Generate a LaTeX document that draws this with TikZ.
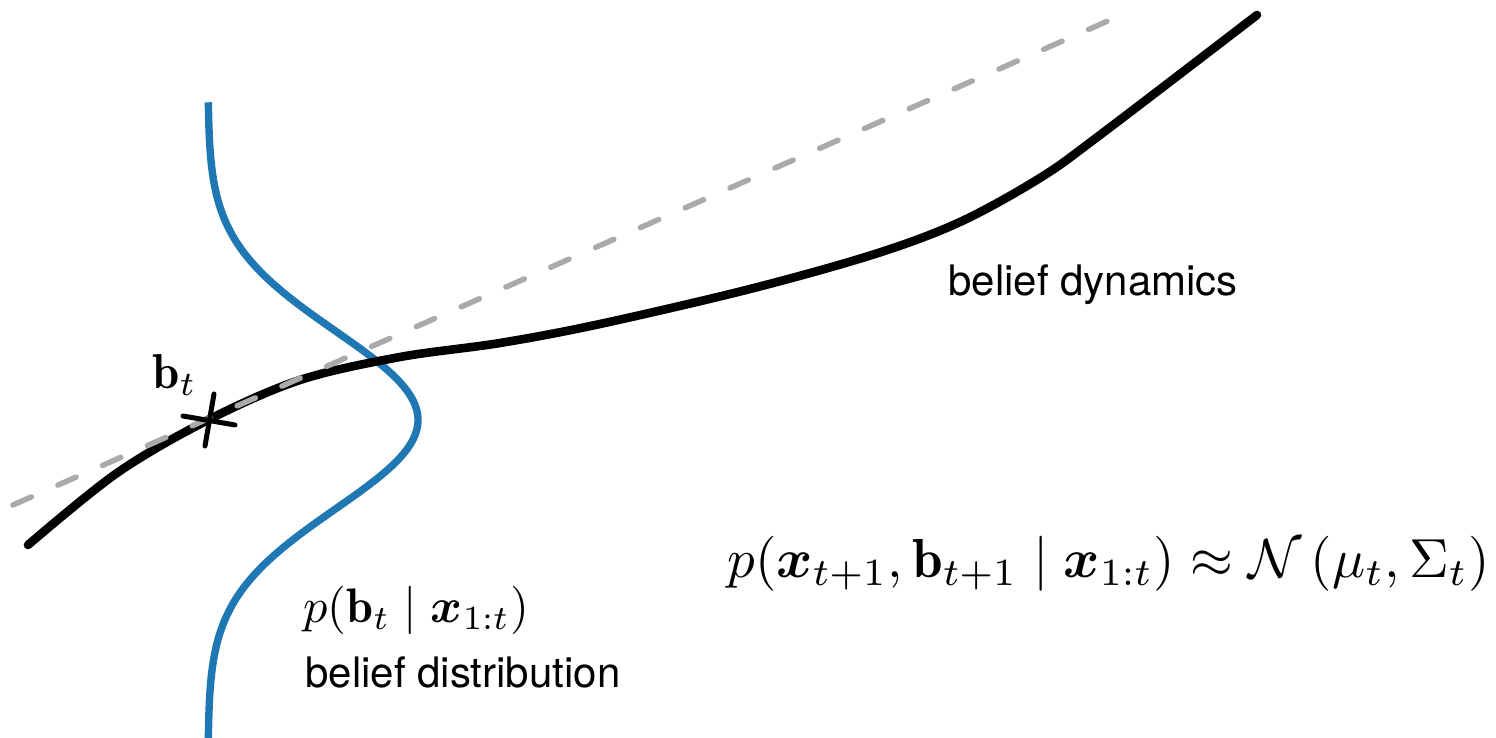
\documentclass[tikz,border=0pt]{standalone}
\usepackage{amsmath,amssymb}
\usepackage{graphicx}
\usepackage{fontspec}
\newfontfamily\helv{TeX Gyre Heros}
\definecolor{beliefblue}{HTML}{1F77B4}
\definecolor{dashgray}{HTML}{AAAAAA}
\begin{document}
\begin{tikzpicture}[x=0.5pt,y=-0.5pt,
  dyn/.style={line width=4.3pt, line cap=round, black},
  lin/.style={line width=2.75pt, dashgray, line cap=round, dash pattern=on 10pt off 14.5pt},
  dist/.style={line width=3.7pt, beliefblue},
  crossmark/.style={line width=2.5pt, line cap=round, black},
  txt/.style={font=\helv\fontsize{21}{25}\selectfont, inner sep=0pt, anchor=base west},
  mth/.style={inner sep=0pt, anchor=base west}]
\useasboundingbox (0,0) rectangle (1496,738);
% belief distribution
\draw[dist] plot[domain=-3.57:3.58, samples=160, variable=\t] ({208+210*exp(-0.5*\t*\t)}, {420+89*\t});
% belief dynamics
\draw[dyn] plot[smooth, tension=0.55] coordinates {(28,545) (117,473) (208,420) (300,380) (400,357) (500,343) (600,324) (750,289) (875,254) (960,222) (1040,178) (1100,135) (1257,15)};
% linearisation
\coordinate (l0) at (13,505);
\coordinate (l1) at (1110,20);
\draw[lin] (l0) -- (l1);
% cross marker
\coordinate (bt) at (209,420);
\draw[crossmark] (bt) ++(-26,-4) -- ++(52,9);
\draw[crossmark] (bt) ++(5,-26) -- ++(-9,52);
% labels
\node[mth] (btlabel) at (152,388) {\scalebox{2.45}{$\mathbf{b}_t$}};
\node[txt] (dyntext) at (948,295) {belief dynamics};
\node[mth] (plabel) at (303,622) {\scalebox{2.42}{$p(\mathbf{b}_t \mid \boldsymbol{x}_{1:t})$}};
\node[txt] (disttext) at (305,687) {belief distribution};
\node[mth] (formula) at (727,577) {\scalebox{2.75}{$p(\boldsymbol{x}_{t+1}, \mathbf{b}_{t+1} \mid \boldsymbol{x}_{1:t}) \approx \mathcal{N}\left(\mu_t, \Sigma_t\right)$}};
\end{tikzpicture}
\end{document}
